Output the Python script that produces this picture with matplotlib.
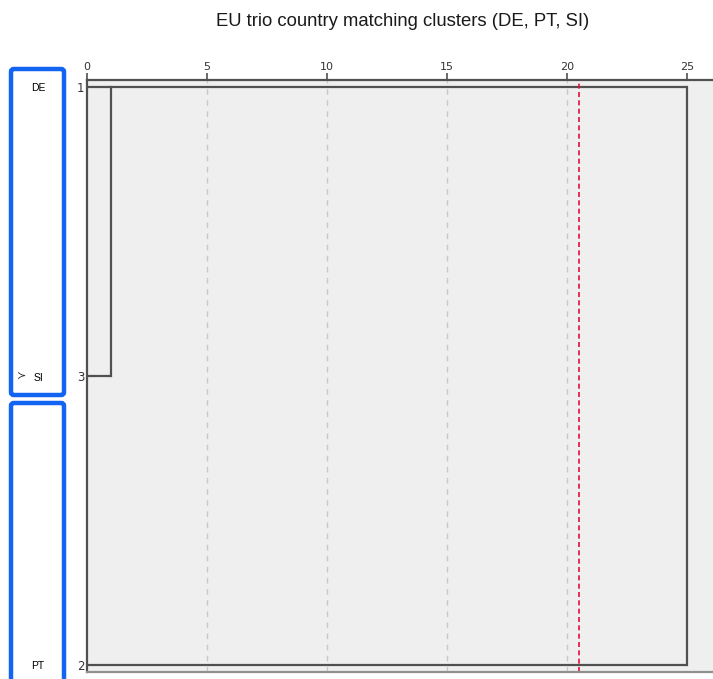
import matplotlib.pyplot as plt
from matplotlib.patches import FancyBboxPatch

# leaves in dendrogram order (top to bottom)
leaf_labels = ["DE", "SI", "PT"]
case_numbers = [1, 3, 2]
leaf_pos = [0.0, 0.5, 1.0]
# merges: (top member position, bottom member position, rescaled distance)
merges = [(0.0, 0.5, 1.0), (0.0, 1.0, 25.0)]
cut_height = 20.5
xticks = [0, 5, 10, 15, 20, 25]

LINE = "#505050"
BLUE = "#1464f4"

fig = plt.figure(figsize=(7.13, 6.79), dpi=100)
ax = fig.add_axes([87 / 713, 7 / 679, 1 - 87 / 713, 592 / 679])
ax.set_facecolor("#efefef")

# leaf lines
start = {}
for p in leaf_pos:
    start[p] = 0.0
for top, bot, h in merges:
    for p in (top, bot):
        ax.plot([start[p], h], [p, p], color=LINE, lw=1.6, solid_capstyle="butt")
    ax.plot([h, h], [top, bot], color=LINE, lw=1.6)
    start[top] = h

for x in xticks[1:-1]:
    ax.axvline(x, color="#c8c8c8", lw=1, ls=(0, (4, 4)), zorder=0)
ax.axvline(cut_height, color="#e0103a", lw=1.2, ls=(0, (3, 2)))

ax.set_xlim(0, 626 / 24)
ax.set_ylim(1.0121, -0.0121)
ax.xaxis.tick_top()
ax.set_xticks(xticks)
ax.set_yticks(leaf_pos)
ax.set_yticklabels([str(c) for c in case_numbers])
ax.tick_params(axis="x", length=5, width=1.2, color=LINE, labelsize=8, labelcolor="#333333", pad=1)
ax.tick_params(axis="y", length=0, labelsize=8.5, labelcolor="#333333", pad=2)
ax.spines["right"].set_visible(False)
for s in ["top", "left", "bottom"]:
    ax.spines[s].set_color(LINE)
    ax.spines[s].set_linewidth(1.6)
ax.spines["bottom"].set_color("#909090")

fig.text(403 / 713, 1 - 22 / 679, "EU trio country matching clusters (DE, PT, SI)",
         ha="center", va="center", fontsize=13.3, family="Liberation Sans",
         color="#1a1a1a")

# cluster boxes on the left
boxes = [(11, 69, 53, 326), (11, 403, 53, 286)]
for x0, y0, w, h in boxes:
    fig.patches.append(FancyBboxPatch((x0 / 713, 1 - (y0 + h) / 679), w / 713, h / 679,
                                      boxstyle="round,pad=0,rounding_size=0.004",
                                      transform=fig.transFigure, fill=False,
                                      ec=BLUE, lw=3.2))

label_y = [88, 378, 666]
for lab, y in zip(leaf_labels, label_y):
    fig.text(38 / 713, 1 - y / 679, lab, ha="center", va="center", fontsize=7.5,
             family="Liberation Sans")
fig.text(22 / 713, 1 - 376 / 679, "≻", ha="center", va="center", fontsize=8,
         color="#333333")

fig.savefig("out.png", dpi=100)
